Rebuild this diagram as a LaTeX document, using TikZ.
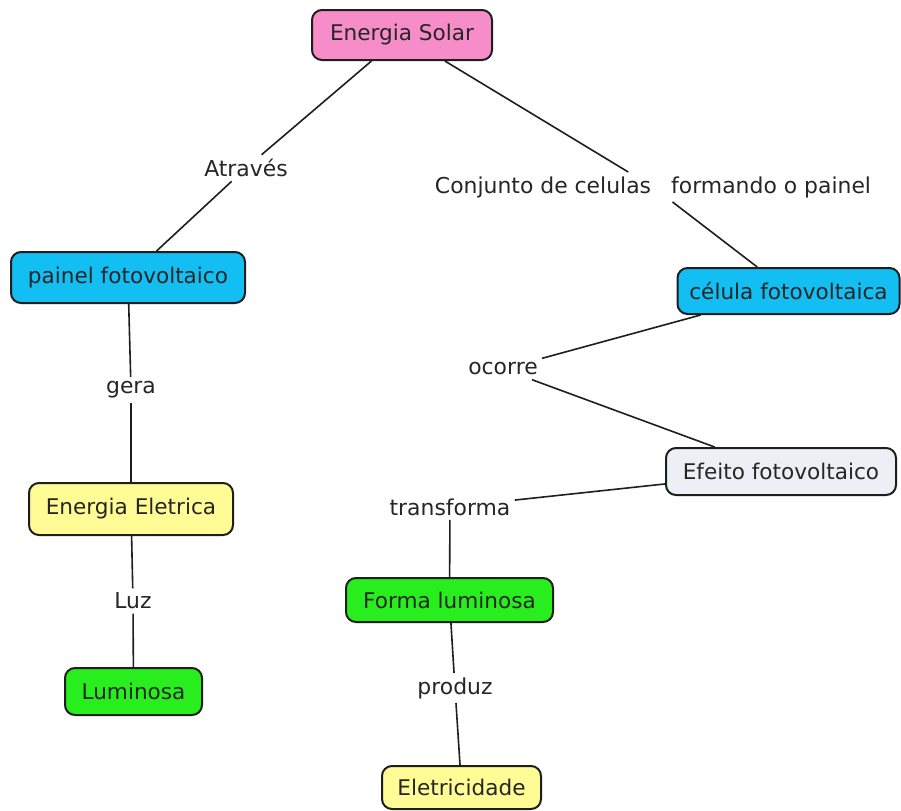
\documentclass[tikz,border=0pt]{standalone}
\usepackage{fontspec}
\setmainfont{DejaVu Sans}
\definecolor{cpink}{RGB}{246,140,200}
\definecolor{cblue}{RGB}{18,190,242}
\definecolor{cgray}{RGB}{236,240,244}
\definecolor{cyellow}{RGB}{255,252,150}
\definecolor{cgreen}{RGB}{40,238,30}
\definecolor{cline}{RGB}{30,30,30}
\begin{document}
\begin{tikzpicture}[x=0.5pt,y=-0.5pt,
  concept/.style={draw=cline,line width=1pt,rounded corners=5pt,inner sep=0pt,
    font=\fontsize{10.8}{13}\selectfont,text=black!85},
  lab/.style={inner sep=2pt,font=\fontsize{10.95}{13}\selectfont,text=black!85},
  conn/.style={draw=cline,line width=0.8pt}]
\useasboundingbox (0,0) rectangle (901,810);
\fill[white] (0,0) rectangle (901,810);
% concepts
\node[concept,fill=cpink,minimum width=90pt,minimum height=25pt] (solar) at (402,35) {Energia Solar};
\node[concept,fill=cblue,minimum width=117pt,minimum height=25.5pt] (painel) at (128,277.5) {painel fotovoltaico};
\node[concept,fill=cblue,minimum width=111pt,minimum height=23pt] (celula) at (788.5,291) {célula fotovoltaica};
\node[concept,fill=cgray,minimum width=115pt,minimum height=23.5pt] (efeito) at (781,471.5) {Efeito fotovoltaico};
\node[concept,fill=cyellow,minimum width=102pt,minimum height=26pt] (eletrica) at (131,509) {Energia Eletrica};
\node[concept,fill=cgreen,minimum width=68.5pt,minimum height=23.5pt] (luminosa) at (133.5,691.5) {Luminosa};
\node[concept,fill=cgreen,minimum width=103.5pt,minimum height=22pt] (forma) at (449.5,600) {Forma luminosa};
\node[concept,fill=cyellow,minimum width=79.5pt,minimum height=21.5pt] (eletricidade) at (461.5,787.5) {Eletricidade};
% labels
\node[lab] (atraves) at (246,168) {Através};
\node[lab] (conjunto) at (653,187) {Conjunto de celulas\hspace{0.6em} formando o painel};
\node[lab] (gera) at (131,390) {gera};
\node[lab] (ocorre) at (503,369) {ocorre};
\node[lab] (transforma) at (450,507) {transforma};
\node[lab] (luz) at (133,601) {Luz};
\node[lab] (produz) at (455,688) {produz};
% connectors
\draw[conn] (solar) -- (atraves);
\draw[conn] (atraves) -- (painel);
\draw[conn] (solar) -- (conjunto);
\draw[conn] (conjunto) -- (celula);
\draw[conn] (painel) -- (gera);
\draw[conn] (gera) -- (eletrica);
\draw[conn] (celula) -- (ocorre);
\draw[conn] (ocorre) -- (efeito);
\draw[conn] (efeito) -- (transforma);
\draw[conn] (transforma) -- (forma);
\draw[conn] (eletrica) -- (luz);
\draw[conn] (luz) -- (luminosa);
\draw[conn] (forma) -- (produz);
\draw[conn] (produz) -- (eletricidade);
\end{tikzpicture}
\end{document}
